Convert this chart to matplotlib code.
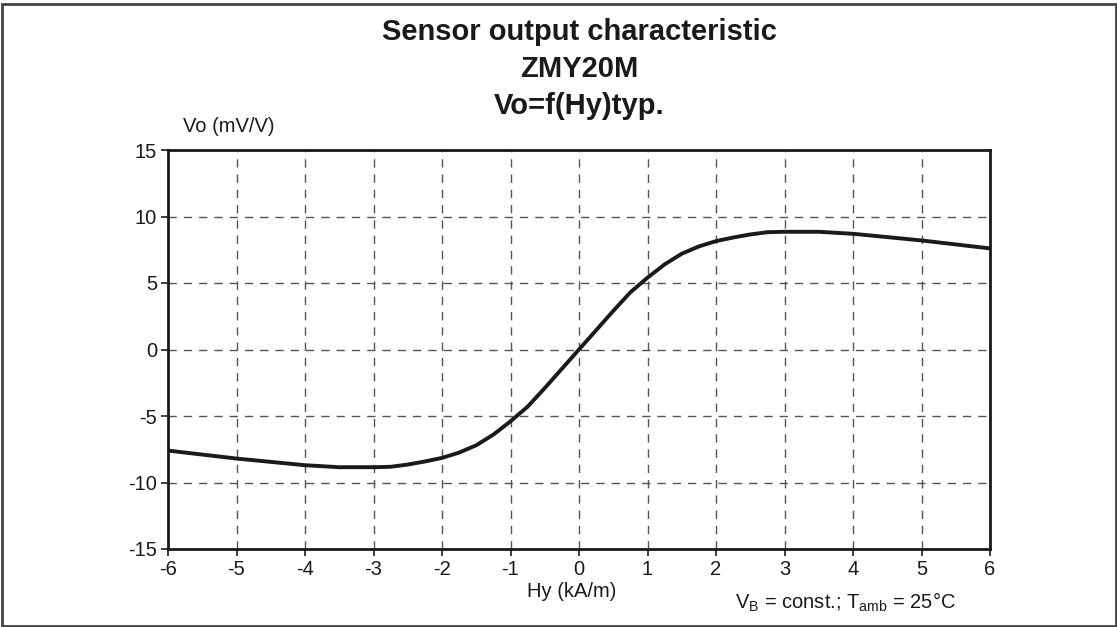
import matplotlib
matplotlib.use("Agg")
import matplotlib.pyplot as plt
from matplotlib.patches import Rectangle

plt.rcParams['font.family'] = ['Liberation Sans', 'DejaVu Sans']

# Data
hy = [-6, -5.5, -5, -4.5, -4, -3.5, -3, -2.75, -2.5, -2.25, -2, -1.75, -1.5, -1.25,
      -1, -0.75, -0.5, -0.25, 0, 0.25, 0.5, 0.75, 1, 1.25, 1.5, 1.75, 2, 2.25,
      2.5, 2.75, 3, 3.5, 4, 4.5, 5, 5.5, 6]
vo = [-7.6, -7.9, -8.2, -8.45, -8.7, -8.85, -8.85, -8.82, -8.65, -8.42, -8.15, -7.75,
      -7.2, -6.4, -5.4, -4.3, -2.9, -1.45, 0, 1.45, 2.9, 4.3, 5.4, 6.4, 7.2, 7.75,
      8.15, 8.42, 8.65, 8.82, 8.85, 8.85, 8.7, 8.45, 8.2, 7.9, 7.6]
xticks = [-6, -5, -4, -3, -2, -1, 0, 1, 2, 3, 4, 5, 6]
yticks = [-15, -10, -5, 0, 5, 10, 15]
title_lines = ["Sensor output characteristic", "ZMY20M", "Vo=f(Hy)typ."]

W, H = 1117, 627
fig = plt.figure(figsize=(W / 100, H / 100), dpi=100)
ax = fig.add_axes([168 / W, 1 - 549 / H, (990 - 168) / W, (549 - 150) / H])

ax.plot(hy, vo, color='#1a1a1a', lw=2.8, solid_capstyle='butt', zorder=3)
ax.set_xlim(-6, 6)
ax.set_ylim(-15, 15)
ax.set_xticks(xticks)
ax.set_yticks(yticks)
ax.set_xticklabels([str(t) for t in xticks])
ax.set_yticklabels([str(t) for t in yticks])
ax.grid(True, color='#555555', lw=1.0, linestyle=(0, (6, 5)))
for s in ax.spines.values():
    s.set_linewidth(2)
    s.set_color('#1a1a1a')
ax.tick_params(direction='out', length=5, width=1.2, colors='#1a1a1a',
               labelsize=14.5, pad=3)

ax.text(-5.78, 16.8, "Vo (mV/V)", fontsize=14.5, ha='left', va='center', color='#1a1a1a')
ax.text(-0.1, -18.2, "Hy (kA/m)", fontsize=14.5, ha='center', va='center', color='#1a1a1a')
fig.text(845 / W, 1 - 602 / H, "V$_\\mathregular{B}$ = const.; T$_\\mathregular{amb}$ = 25°C",
         fontsize=14.5, ha='center', va='center', color='#1a1a1a')

ys = [32, 69, 106]
for t, y in zip(title_lines, ys):
    fig.text(579 / W, 1 - y / H, t, fontsize=21, fontweight='bold', ha='center',
             va='center', color='#1a1a1a')

fig.patches.append(Rectangle((2 / W, 1 - 626 / H), 1114 / W, 622 / H,
                             transform=fig.transFigure, fill=False,
                             edgecolor='#444444', lw=2))

fig.savefig("out.png", dpi=100)
